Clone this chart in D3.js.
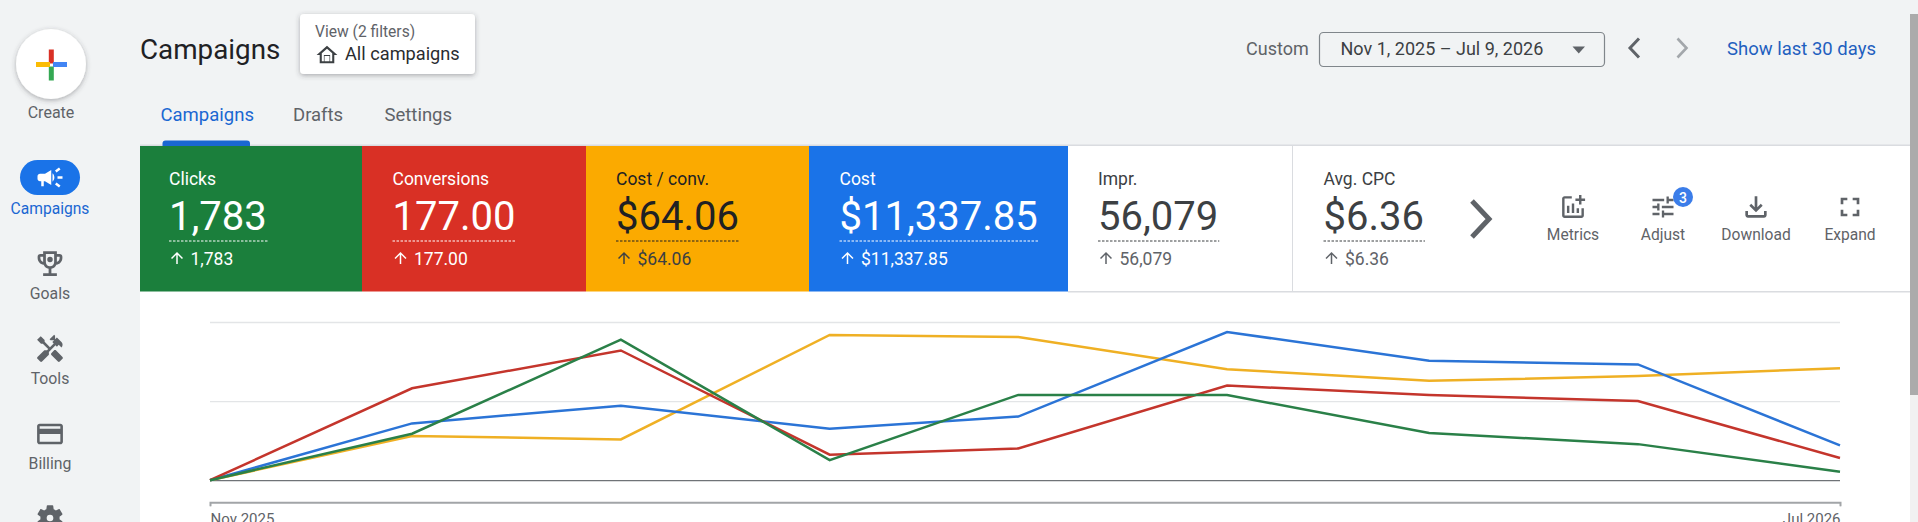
<!DOCTYPE html>
<html>
<head>
<meta charset="utf-8">
<script src="https://cdn.jsdelivr.net/npm/d3@7"></script>
<style>
html, body { margin: 0; padding: 0; background: #f1f3f4; overflow: hidden; }
svg { display: block; font-family: Roboto, sans-serif; }
</style>
</head>
<body>
<div id="chart"></div>
<script>
// chart data. values are % of the top gridline
const months = ["2025-11-01", "2025-12-01", "2026-01-01", "2026-02-01", "2026-03-01",
                "2026-04-01", "2026-05-01", "2026-06-01", "2026-07-01"];
const clicksSeries      = [0, 29.4, 88.8, 12.7, 53.9, 53.9, 29.8, 22.8, 5.3];
const conversionsSeries = [0, 58.1, 82.0, 16.1, 20.1, 59.8, 53.9, 50.1, 14.0];
const costConvSeries    = [0, 27.9, 25.8, 91.8, 90.5, 70.2, 62.8, 65.8, 70.8];
const costSeries        = [0, 35.9, 47.1, 32.6, 40.2, 93.7, 75.5, 73.2, 22.0];
const yTicks = [0, 50, 100];
const xTickDates = ["2025-11-01", "2026-07-01"];

const kpiLabels = ["Clicks", "Conversions", "Cost / conv.", "Cost", "Impr.", "Avg. CPC"];
const kpiValues = ["1,783", "177.00", "$64.06", "$11,337.85", "56,079", "$6.36"];
const kpiDeltas = ["1,783", "177.00", "$64.06", "$11,337.85", "56,079", "$6.36"];

const navLabels = ["Goals", "Tools", "Billing"];
const tabLabels = ["Campaigns", "Drafts", "Settings"];
const toolLabels = ["Metrics", "Adjust", "Download", "Expand"];

const width = 1918, height = 522;
const gray = "#5f6368", dark = "#202124", link = "#1f5fbf";

const cardEdges = [140, 362, 586, 809, 1068, 1293, 1910];
const cardTextX = [169, 392.5, 616, 839.5, 1098, 1323.5];
const cardFills = ["#1b7f3c", "#d93025", "#fbaa00", "#1a73e8", "#fff", "#fff"];
const cardText  = ["#fff", "#fff", dark, "#fff", "#3c4043", "#3c4043"];
const cardSub   = ["#fff", "#fff", "#3c4043", "#fff", gray, gray];

const lineColors = ["#2a8048", "#c4352c", "#efb024", "#2b74d6"];
const plot = { left: 210, right: 1840, top: 322, zero: 480.2, axis: 502.2 };

const icons = {
    campaign: "M18 11v2h4v-2h-4zm-2 6.61c.96.71 2.21 1.65 3.2 2.39.4-.53.8-1.07 1.2-1.6-.99-.74-2.24-1.68-3.2-2.4-.4.54-.8 1.08-1.2 1.61zM20.4 5.6c-.4-.53-.8-1.07-1.2-1.6-.99.74-2.24 1.68-3.2 2.4.4.53.8 1.07 1.2 1.6.96-.72 2.21-1.65 3.2-2.4zM4 9c-1.1 0-2 .9-2 2v2c0 1.1.9 2 2 2h1v4h2v-4h1l5 3V6L8 9H4zm11.5 3c0-1.33-.58-2.53-1.5-3.35v6.69c.92-.81 1.5-2.01 1.5-3.34z",
    trophy: "M19 5h-2V3H7v2H5c-1.1 0-2 .9-2 2v1c0 2.55 1.92 4.63 4.39 4.94.63 1.5 1.98 2.63 3.61 2.96V19H7v2h10v-2h-4v-3.1c1.63-.33 2.98-1.46 3.61-2.96C19.08 12.63 21 10.55 21 8V7c0-1.1-.9-2-2-2zM5 8V7h2v3.82C5.84 10.4 5 9.3 5 8zm7 6c-1.65 0-3-1.35-3-3V5h6v6c0 1.65-1.35 3-3 3zm7-6c0 1.3-.84 2.4-2 2.82V7h2v1zM12 7a2 2 0 1 0 0 4 2 2 0 0 0 0-4z",
    tools: "M21.67 18.17l-5.3-5.3h-.99l-2.54 2.54v.99l5.3 5.3c.39.39 1.02.39 1.41 0l2.12-2.12c.39-.38.39-1.02 0-1.41zM17.34 10.19l1.41-1.41 2.12 2.12c1.17-1.17 1.17-3.07 0-4.24l-3.54-3.54-1.41 1.41V1.71l-.7-.71-3.54 3.54.71.71h2.83l-1.41 1.41 1.06 1.06-2.89 2.89-4.13-4.13V5.06L4.83 2.04 2 4.87 5.03 7.9h1.41l4.13 4.13-.85.85H7.61l-5.3 5.3c-.39.39-.39 1.02 0 1.41l2.12 2.12c.39.39 1.02.39 1.41 0l5.3-5.3v-2.12l5.15-5.15 1.05 1.05z",
    card: "M20 4H4c-1.11 0-1.99.89-1.99 2L2 18c0 1.11.89 2 2 2h16c1.11 0 2-.89 2-2V6c0-1.11-.89-2-2-2zm0 14H4v-6h16v6zm0-10H4V6h16v2z",
    gear: "M19.14 12.94c.04-.3.06-.61.06-.94 0-.32-.02-.64-.07-.94l2.03-1.58c.18-.14.23-.41.12-.61l-1.92-3.32c-.12-.22-.37-.29-.59-.22l-2.39.96c-.5-.38-1.03-.7-1.62-.94l-.36-2.54c-.04-.24-.24-.41-.48-.41h-3.84c-.24 0-.43.17-.47.41l-.36 2.54c-.59.24-1.13.57-1.62.94l-2.39-.96c-.22-.08-.47 0-.59.22L2.74 8.87c-.12.21-.08.47.12.61l2.03 1.58c-.05.3-.09.63-.09.94s.02.64.07.94l-2.03 1.58c-.18.14-.23.41-.12.61l1.92 3.32c.12.22.37.29.59.22l2.39-.96c.5.38 1.03.7 1.62.94l.36 2.54c.05.24.24.41.48.41h3.84c.24 0 .44-.17.47-.41l.36-2.54c.59-.24 1.13-.56 1.62-.94l2.39.96c.22.08.47 0 .59-.22l1.92-3.32c.12-.22.07-.47-.12-.61l-2.01-1.58zM12 9.5a2.5 2.5 0 1 1 0 5 2.5 2.5 0 0 1 0-5z",
    home: "M12 3L2 12h3v8h14v-8h3L12 3zm0 2.9l5 4.5V18h-2v-6H9v6H7v-7.6z M9.6 13h4.8v5H9.6z",
    metrics: "M22 5v2h-3v3h-2V7h-3V5h3V2h2v3h3zm-3 14H5V5h6V3H5c-1.1 0-2 .9-2 2v14c0 1.1.9 2 2 2h14c1.1 0 2-.9 2-2v-6h-2v6zm-4-6v4h2v-4h-2zm-4 4h2V9h-2v8zm-2 0v-6H7v6h2z",
    tune: "M3 17v2h6v-2H3zM3 5v2h10V5H3zm10 16v-2h8v-2h-8v-2h-2v6h2zM7 9v2H3v2h4v2h2V9H7zm14 4v-2H11v2h10zm-6-4h2V7h4V5h-4V3h-2v6z",
    download: "M18 15v3H6v-3H4v3c0 1.1.9 2 2 2h12c1.1 0 2-.9 2-2v-3h-2zm-1-4l-1.41-1.41L13 12.17V4h-2v8.17L8.41 9.59 7 11l5 5 5-5z",
    expand: "M7 14H5v5h5v-2H7v-3zm-2-4h2V7h3V5H5v5zm12 7h-3v2h5v-5h-2v3zM14 5v2h3v3h2V5h-5z",
    up: "M4 12l1.41 1.41L11 7.83V20h2V7.83l5.58 5.59L20 12l-8-8-8 8z"
};

const svg = d3.select("#chart").append("svg")
    .attr("width", width)
    .attr("height", height);

const defs = svg.append("defs");
const shadow = defs.append("filter").attr("id", "shadow")
    .attr("x", "-30%").attr("y", "-30%").attr("width", "160%").attr("height", "170%");
shadow.append("feDropShadow")
    .attr("dx", 0).attr("dy", 1.5).attr("stdDeviation", 2.5)
    .attr("flood-color", "#3c4043").attr("flood-opacity", 0.4);

function addText(x, y, str, size, fill, weight, anchor) {
    return svg.append("text")
        .attr("x", x).attr("y", y)
        .attr("font-size", size)
        .attr("font-weight", weight || 400)
        .attr("text-anchor", anchor || "start")
        .attr("fill", fill)
        .text(str);
}

function addIcon(name, cx, cy, size, fill) {
    svg.append("path")
        .attr("d", icons[name])
        .attr("fill", fill)
        .attr("fill-rule", "evenodd")
        .attr("transform", "translate(" + (cx - size / 2) + "," + (cy - size / 2) + ") scale(" + size / 24 + ")");
}

// white panel and the scrollbar
svg.append("rect").attr("x", 140).attr("y", 146).attr("width", 1770).attr("height", 376).attr("fill", "#fff");
svg.append("rect").attr("x", 140).attr("y", 144.5).attr("width", 1770).attr("height", 1.5).attr("fill", "#dadce0");
svg.append("rect").attr("x", 1910).attr("y", 14).attr("width", 8).attr("height", 508).attr("fill", "#f1f1f1");
svg.append("rect").attr("x", 1910).attr("y", 14).attr("width", 8).attr("height", 381).attr("fill", "#ababab");

// left nav
svg.append("circle").attr("cx", 51).attr("cy", 64).attr("r", 35)
    .attr("fill", "#fff").attr("filter", "url(#shadow)");
svg.append("rect").attr("x", 48.8).attr("y", 49.5).attr("width", 5).attr("height", 14).attr("fill", "#d93025");
svg.append("rect").attr("x", 48.8).attr("y", 66.5).attr("width", 5).attr("height", 14).attr("fill", "#34a853");
svg.append("rect").attr("x", 36).attr("y", 62).attr("width", 14).attr("height", 5).attr("fill", "#fbbc04");
svg.append("rect").attr("x", 53).attr("y", 62).attr("width", 14).attr("height", 5).attr("fill", "#4285f4");
addText(51, 117.5, "Create", 16, gray, 400, "middle");

svg.append("rect").attr("x", 20).attr("y", 160).attr("width", 60).attr("height", 35).attr("rx", 17.5).attr("fill", "#1a73e8");
addIcon("campaign", 50, 177.5, 30, "#fff");
addText(50, 213.5, "Campaigns", 15.6, "#1a67d2", 400, "middle");

const navIcons = ["trophy", "tools", "card"];
const navIconY = [263.5, 349, 434];
const navLabelY = [298.5, 383.5, 468.5];
const navIconSize = [33, 31, 31];
navLabels.forEach((d, i) => {
    addIcon(navIcons[i], 50, navIconY[i], navIconSize[i], gray);
    addText(50, navLabelY[i], d, 15.8, gray, 400, "middle");
});
addIcon("gear", 50, 518, 32, gray);

// header
addText(140, 59, "Campaigns", 27.8, dark);
svg.append("rect").attr("x", 300).attr("y", 14).attr("width", 175).attr("height", 60).attr("rx", 4)
    .attr("fill", "#fff").attr("filter", "url(#shadow)");
addText(315, 37, "View (2 filters)", 15.6, gray);
addIcon("home", 327, 55, 25, "#3c4043");
addText(345, 60, "All campaigns", 18.2, "#2a2c2f");

const tabX = [160.5, 293, 384.5];
tabLabels.forEach((d, i) => {
    addText(tabX[i], 121, d, 18.5, i === 0 ? "#1a67d2" : gray, 400);
});
svg.append("path").attr("d", "M162.5 146v-2.5a3 3 0 0 1 3-3h81.5a3 3 0 0 1 3 3v2.5z").attr("fill", "#1a67d2");

addText(1246, 55, "Custom", 18, gray);
svg.append("rect").attr("x", 1319.5).attr("y", 32.5).attr("width", 285).attr("height", 34).attr("rx", 4)
    .attr("fill", "none").attr("stroke", "#80868b").attr("stroke-width", 1.2);
addText(1340.5, 55, "Nov 1, 2025 – Jul 9, 2026", 18, "#3c4043");
svg.append("path").attr("d", "M1572.5 46.5h12.5l-6.25 7z").attr("fill", gray);
svg.append("path").attr("d", "M1639 38.5l-9 9.5 9 9.5").attr("fill", "none").attr("stroke", gray).attr("stroke-width", 3);
svg.append("path").attr("d", "M1677.5 38.5l9 9.5-9 9.5").attr("fill", "none").attr("stroke", "#a3a7ab").attr("stroke-width", 2.6);
addText(1727, 55, "Show last 30 days", 18.5, link, 400);

// KPI cards
kpiLabels.forEach((d, i) => {
    const x0 = cardEdges[i], x1 = cardEdges[i + 1];
    svg.append("rect").attr("x", x0).attr("y", 146).attr("width", x1 - x0).attr("height", 145.5).attr("fill", cardFills[i]);
    const tx = cardTextX[i];
    addText(tx, 185, d, 17.5, cardText[i]);
    const val = addText(tx, 229.5, kpiValues[i], 40, cardText[i]);
    const w = val.node().getComputedTextLength();
    svg.append("line")
        .attr("x1", tx).attr("x2", tx + w + 1)
        .attr("y1", 241).attr("y2", 241)
        .attr("stroke", cardText[i])
        .attr("stroke-dasharray", "2.5 1.5");
    addIcon("up", tx + 8, 258, 18, cardSub[i]);
    addText(tx + 21.5, 265, kpiDeltas[i], 17.5, cardSub[i]);
});
svg.append("rect").attr("x", 1068).attr("y", 291).attr("width", 842).attr("height", 1.5).attr("fill", "#dadce0");
svg.append("rect").attr("x", 1292).attr("y", 146).attr("width", 1).attr("height", 145).attr("fill", "#dadce0");

svg.append("path").attr("d", "M1472 201l17 18-17 18").attr("fill", "none").attr("stroke", gray).attr("stroke-width", 5);

const toolX = [1573, 1663, 1756, 1850];
const toolIcons = ["metrics", "tune", "download", "expand"];
const toolSize = [29, 28, 32, 32];
toolLabels.forEach((d, i) => {
    addIcon(toolIcons[i], toolX[i], 207, toolSize[i], gray);
    addText(toolX[i], 240, d, 15.6, gray, 400, "middle");
});
svg.append("circle").attr("cx", 1683).attr("cy", 197).attr("r", 10).attr("fill", "#3b7de9");
addText(1683, 202.5, "3", 14, "#fff", 500, "middle");

// the chart itself
const parseDate = d3.timeParse("%Y-%m-%d");
const dates = months.map(parseDate);

const xScale = d3.scaleTime()
    .domain(d3.extent(dates))
    .range([plot.left, plot.right]);

const yScale = d3.scaleLinear()
    .domain([0, 100])
    .range([plot.zero, plot.top]);

const gridG = svg.append("g")
    .attr("transform", "translate(" + plot.left + ",0)")
    .call(d3.axisLeft(yScale).tickValues(yTicks).tickSize(-(plot.right - plot.left)).tickFormat(""));
gridG.select(".domain").remove();
gridG.selectAll(".tick line")
    .attr("stroke", (d) => d === 0 ? "#6f7377" : "#e3e5e7")
    .attr("stroke-width", (d) => d === 0 ? 1.3 : (d === 100 ? 1.5 : 1.2));

const xAxisG = svg.append("g")
    .attr("transform", "translate(0," + plot.axis + ")")
    .call(d3.axisBottom(xScale).tickValues(xTickDates.map(parseDate)).tickSize(4).tickPadding(7).tickFormat(d3.timeFormat("%b %Y")));
xAxisG.select(".domain").attr("stroke", "#a2a5a8").attr("stroke-width", 2);
xAxisG.selectAll(".tick line").attr("stroke", "#a2a5a8");
xAxisG.selectAll(".tick text")
    .attr("font-family", "Roboto, sans-serif")
    .attr("font-size", 15)
    .attr("fill", gray)
    .attr("text-anchor", (d, i) => i === 0 ? "start" : "end");

const line = d3.line()
    .x((d, i) => xScale(dates[i]))
    .y((d) => yScale(d));

// yellow sits under green at the start, so draw order is the same as the picture
const allSeries = [costConvSeries, costSeries, conversionsSeries, clicksSeries];
const seriesColors = [lineColors[2], lineColors[3], lineColors[1], lineColors[0]];

svg.selectAll(".series")
    .data(allSeries)
    .enter()
    .append("path")
    .attr("class", "series")
    .attr("d", line)
    .attr("fill", "none")
    .attr("stroke", (d, i) => seriesColors[i])
    .attr("stroke-width", 2.5);
</script>
</body>
</html>
